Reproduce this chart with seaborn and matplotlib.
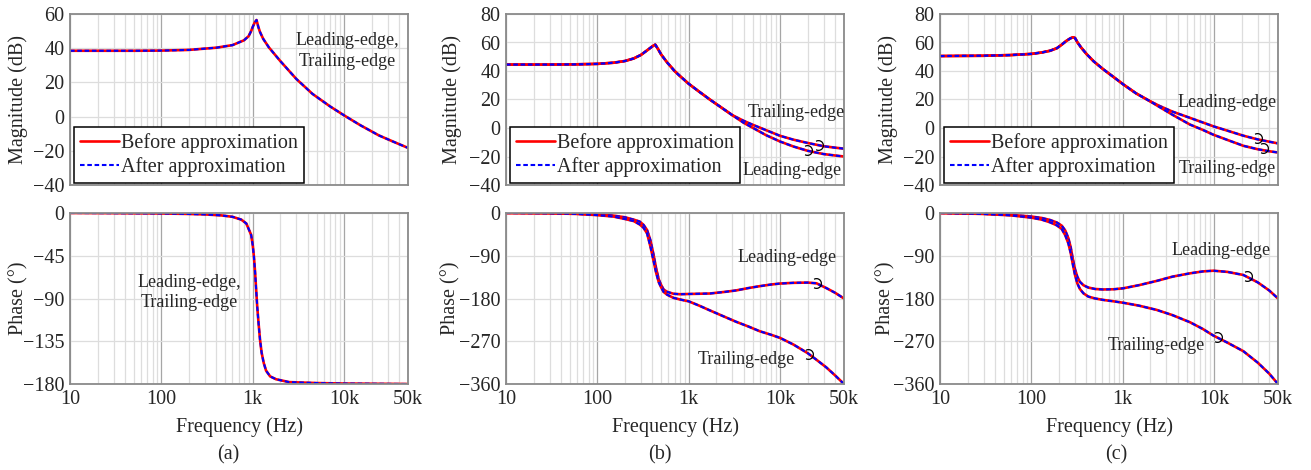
import matplotlib
matplotlib.use("Agg")
import matplotlib.pyplot as plt
import seaborn as sns
from matplotlib.lines import Line2D
from matplotlib.path import Path
from matplotlib.ticker import FixedLocator, LogLocator, NullFormatter

sns.set_style("white")
plt.rcParams["font.family"] = ["Liberation Serif", "DejaVu Serif"]

# ---- axis ticks ----
x_ticks = [10, 100, 1000, 10000, 50000]
x_tick_labels = ["10", "100", "1k", "10k", "50k"]

# ---- panel (a): leading- and trailing-edge curves coincide ----
freq_a_mag = [10, 50, 100, 200, 400, 600, 800, 900, 960, 1000, 1050, 1100,
              1150, 1200, 1300, 1500, 2000, 3000, 4500, 7000, 10000, 15000,
              24000, 35000, 50000]
mag_a = [38.5, 38.5, 38.6, 39.0, 40.3, 41.8, 44.6, 47.0, 50.0, 52.5, 55.0,
         56.5, 52.5, 49.5, 45.5, 40.5, 32.5, 22.0, 13.3, 6.0, 0.7, -5.0,
         -11.0, -14.8, -18.3]

freq_a_ph = [10, 30, 100, 200, 300, 450, 600, 750, 850, 960, 1000, 1030,
             1060, 1090, 1120, 1160, 1200, 1250, 1320, 1400, 1550, 1800,
             2500, 5000, 10000, 50000]
phase_a = [0, -0.2, -0.5, -1.0, -1.5, -2.5, -4.0, -7.0, -11.0, -23.0, -34.0,
           -46.0, -62.0, -81.0, -99.0, -117.0, -133.0, -147.0, -158.0,
           -166.0, -172.0, -175.0, -178.0, -179.0, -179.5, -180.0]

# ---- panel (b) ----
freq_b_mag = [10, 30, 60, 100, 150, 200, 250, 300, 350, 400, 430, 460, 500,
              580, 700, 800, 1000, 1300, 1700, 2200, 3000, 4000, 5000, 7000,
              10000, 14000, 20000, 30000, 40000, 50000]
mag_b_trailing = [44.5, 44.5, 44.7, 45.0, 45.8, 47.0, 48.8, 51.3, 54.5, 57.3,
                  58.5, 55.5, 51.5, 46.0, 40.0, 36.5, 31.0, 25.5, 20.0, 15.0,
                  9.0, 5.0, 2.3, -1.5, -5.5, -8.2, -10.5, -12.8, -13.8, -14.5]
mag_b_leading = [44.5, 44.5, 44.7, 45.0, 45.8, 47.0, 48.8, 51.3, 54.5, 57.3,
                 58.5, 55.5, 51.5, 46.0, 40.0, 36.5, 31.0, 25.5, 20.0, 15.0,
                 9.0, 3.6, 0.2, -5.0, -9.5, -13.0, -16.0, -18.3, -19.3, -20.0]

freq_b_ph = [10, 30, 60, 100, 150, 200, 250, 290, 320, 350, 380, 410, 440,
             470, 500, 530, 580, 680, 800, 1000, 1300, 1700, 2500, 3300, 4500,
             6000, 8000, 10000, 14000, 20000, 25000, 32000, 40000, 50000]
phase_b_leading = [0, -0.5, -1.5, -3.5, -5.5, -9.0, -14.0, -18.0, -25.0,
                   -36.0, -57.0, -86.0, -117.0, -140.0, -152.0, -161.0,
                   -166.0, -170.0, -171.0, -170.5, -170.0, -169.5, -166.0,
                   -163.0, -158.0, -154.0, -150.5, -148.5, -147.0, -146.5,
                   -148.0, -158.0, -168.0, -180.0]
phase_b_trailing = [0, -0.5, -2.0, -4.5, -7.5, -12.6, -17.0, -24.0, -31.0,
                    -43.0, -70.0, -99.0, -126.0, -146.0, -157.0, -166.0,
                    -172.0, -178.6, -182.0, -186.0, -195.0, -205.0, -219.0,
                    -229.0, -239.0, -249.0, -256.5, -263.0, -277.0, -295.0,
                    -309.0, -325.0, -342.0, -360.0]

# ---- panel (c) ----
freq_c_mag = [10, 30, 60, 100, 130, 160, 190, 215, 240, 265, 285, 300, 320,
              350, 403, 480, 612, 800, 1013, 1400, 1986, 2500, 3500, 5445,
              7500, 9800, 14000, 20900, 30000, 40000, 50000]
mag_c_leading = [50.5, 50.7, 51.2, 52.0, 53.0, 54.2, 56.0, 58.5, 61.0, 62.8,
                 63.7, 63.2, 60.0, 56.5, 51.8, 46.8, 41.2, 35.6, 30.6, 24.3,
                 18.8, 15.6, 11.5, 7.1, 3.9, 1.2, -1.9, -5.4, -8.0, -9.6,
                 -10.8]
mag_c_trailing = [50.5, 50.7, 51.2, 52.0, 53.0, 54.2, 56.0, 58.5, 61.0, 62.8,
                  63.7, 63.2, 60.0, 56.5, 51.8, 46.8, 41.2, 35.6, 30.6, 24.3,
                  18.8, 14.9, 9.3, 2.4, -1.3, -4.7, -8.4, -12.5, -14.9, -16.3,
                  -17.2]

freq_c_ph = [10, 30, 60, 100, 130, 160, 190, 215, 235, 254, 270, 283, 300,
             318, 340, 371, 420, 500, 612, 800, 1014, 1500, 2350, 3500, 5445,
             7500, 9800, 14000, 20900, 30000, 40000, 50000]
phase_c_leading = [0, -1.5, -4.0, -7.5, -10.5, -14.7, -20.0, -26.7, -37.0,
                   -53.0, -73.0, -95.0, -118.0, -134.0, -145.0, -152.0,
                   -157.0, -160.0, -161.0, -160.5, -158.5, -152.0, -143.0,
                   -134.0, -127.0, -123.0, -121.5, -124.0, -130.5, -146.0,
                   -163.0, -180.0]
phase_c_trailing = [0, -2.0, -5.0, -9.8, -14.0, -19.6, -26.0, -33.7, -47.0,
                    -64.0, -85.0, -106.0, -130.0, -148.0, -160.0, -169.0,
                    -176.0, -180.0, -183.0, -186.0, -189.0, -195.0, -204.0,
                    -215.0, -230.0, -244.0, -258.0, -273.0, -291.0, -315.0,
                    -338.0, -360.0]

RED = "#ff0000"
BLUE = "#0000ff"
FS = 14.5
FS_NOTE = 13
ARC = Path.arc(-120, 120)

fig = plt.figure(figsize=(13.11, 4.70), dpi=100)

lefts = [70 / 1311, 506 / 1311, 940 / 1311]
w = 338 / 1311
h = 171 / 470
mag_bottom = 1 - 185 / 470
ph_bottom = 1 - 384 / 470


def draw_pair(ax, f, v):
    # before approximation (red solid), after approximation (blue dashed)
    sns.lineplot(x=f, y=v, ax=ax, color=RED, linewidth=1.9, legend=False)
    sns.lineplot(x=f, y=v, ax=ax, color=BLUE, linewidth=1.5,
                 linestyle=(0, (2.2, 1.3)), legend=False)


def style_axis(ax, ylim, yticks, show_x, ylabel, ylabel_x):
    ax.set_xscale("log")
    ax.set_xlim(10, 50000)
    ax.set_ylim(*ylim)
    ax.set_yticks(yticks)
    ax.xaxis.set_major_locator(FixedLocator(x_ticks))
    ax.xaxis.set_minor_locator(LogLocator(base=10, subs=range(2, 10)))
    ax.xaxis.set_minor_formatter(NullFormatter())
    if show_x:
        ax.set_xticklabels(x_tick_labels)
        ax.set_xlabel("Frequency (Hz)", fontsize=FS, labelpad=6)
    else:
        ax.set_xticklabels([])
    ax.grid(True, which="minor", axis="x", color="#dddddd", lw=0.9)
    ax.grid(True, which="major", axis="x", color="#a6a6a6", lw=0.9)
    ax.grid(True, which="major", axis="y", color="#dddddd", lw=0.9)
    ax.set_axisbelow(True)
    ax.tick_params(which="both", length=0, labelsize=FS, pad=4)
    for s in ax.spines.values():
        s.set_color("#8a8a8a")
        s.set_linewidth(1.3)
    ax.set_ylabel(ylabel, fontsize=FS)
    ax.yaxis.set_label_coords(ylabel_x, 0.5)


def add_legend(ax):
    handles = [Line2D([], [], color=RED, lw=1.9),
               Line2D([], [], color=BLUE, lw=1.5, linestyle=(0, (2.2, 1.3)))]
    leg = ax.legend(handles, ["Before approximation", "After approximation"],
                    loc="lower left", bbox_to_anchor=(0.013, 0.012),
                    borderaxespad=0, fontsize=FS, handlelength=1.9,
                    handletextpad=0.1, labelspacing=0.22, borderpad=0.3,
                    fancybox=False, framealpha=1, edgecolor="black")
    leg.get_frame().set_linewidth(1.1)


def add_arc(ax, f, v):
    ax.plot([f], [v], marker=ARC, ms=7, mfc="none", mec="black", mew=0.9,
            linestyle="none", zorder=5)


mag_axes = [fig.add_axes([l, mag_bottom, w, h]) for l in lefts]
ph_axes = [fig.add_axes([l, ph_bottom, w, h]) for l in lefts]

# (a)
ax = mag_axes[0]
draw_pair(ax, freq_a_mag, mag_a)
style_axis(ax, (-40, 60), [-40, -20, 0, 20, 40, 60], False, "Magnitude (dB)", -0.124)
add_legend(ax)
ax.text(10800, 38.5, "Leading-edge,\nTrailing-edge", ha="center", va="center",
        fontsize=FS_NOTE, linespacing=1.3)

ax = ph_axes[0]
draw_pair(ax, freq_a_ph, phase_a)
style_axis(ax, (-180, 0), [0, -45, -90, -135, -180], True, "Phase (°)", -0.124)
ax.text(204, -83.7, "Leading-edge,\nTrailing-edge", ha="center", va="center",
        fontsize=FS_NOTE, linespacing=1.3)

# (b)
ax = mag_axes[1]
draw_pair(ax, freq_b_mag, mag_b_trailing)
draw_pair(ax, freq_b_mag, mag_b_leading)
style_axis(ax, (-40, 80), [-40, -20, 0, 20, 40, 60, 80], False, "Magnitude (dB)", -0.130)
add_legend(ax)
ax.text(14900, 10.8, "Trailing-edge", ha="center", va="center", fontsize=FS_NOTE)
ax.text(13500, -30.1, "Leading-edge", ha="center", va="center", fontsize=FS_NOTE)
add_arc(ax, 26200, -11.8)
add_arc(ax, 19500, -15.3)

ax = ph_axes[1]
draw_pair(ax, freq_b_ph, phase_b_leading)
draw_pair(ax, freq_b_ph, phase_b_trailing)
style_axis(ax, (-360, 0), [0, -90, -180, -270, -360], True, "Phase (°)", -0.136)
ax.text(11900, -94.2, "Leading-edge", ha="center", va="center", fontsize=FS_NOTE)
ax.text(4230, -307.7, "Trailing-edge", ha="center", va="center", fontsize=FS_NOTE)
add_arc(ax, 25000, -147)
add_arc(ax, 20300, -297)

# (c)
ax = mag_axes[2]
draw_pair(ax, freq_c_mag, mag_c_leading)
draw_pair(ax, freq_c_mag, mag_c_trailing)
style_axis(ax, (-40, 80), [-40, -20, 0, 20, 40, 60, 80], False, "Magnitude (dB)", -0.124)
add_legend(ax)
ax.text(13800, 18.1, "Leading-edge", ha="center", va="center", fontsize=FS_NOTE)
ax.text(13800, -28.7, "Trailing-edge", ha="center", va="center", fontsize=FS_NOTE)
add_arc(ax, 29300, -7.0)
add_arc(ax, 34500, -14.1)

ax = ph_axes[2]
draw_pair(ax, freq_c_ph, phase_c_leading)
draw_pair(ax, freq_c_ph, phase_c_trailing)
style_axis(ax, (-360, 0), [0, -90, -180, -270, -360], True, "Phase (°)", -0.133)
ax.text(11900, -78, "Leading-edge", ha="center", va="center", fontsize=FS_NOTE)
ax.text(2310, -278, "Trailing-edge", ha="center", va="center", fontsize=FS_NOTE)
add_arc(ax, 22700, -132)
add_arc(ax, 10700, -262)

for x, lab in zip([228, 660, 1116], ["(a)", "(b)", "(c)"]):
    fig.text(x / 1311, 1 - 455 / 470, lab, ha="center", va="center", fontsize=FS)

fig.savefig("out.png", dpi=100)
plt.close(fig)
